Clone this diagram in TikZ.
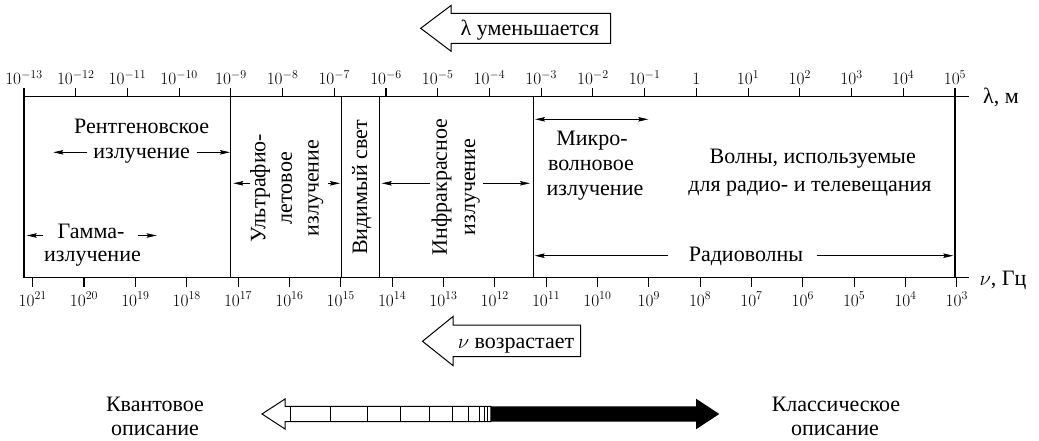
\documentclass[tikz,border=0pt]{standalone}
\usepackage[no-math]{fontspec}
\setmainfont{Liberation Serif}
\usetikzlibrary{arrows.meta}
\begin{document}
\begin{tikzpicture}[x=1pt,y=-1pt,
  lbl/.style={font=\fontsize{22}{25}\selectfont, inner sep=0pt, align=center},
  blbl/.style={lbl, anchor=base},
  tick/.style={font=\fontsize{18}{20}\selectfont, inner sep=0pt, anchor=base},
  axis/.style={line width=1.1pt},
  tip/.tip={Stealth[length=10pt,width=4.5pt,inset=1.5pt]},
  rng/.style={line width=0.8pt, -tip},
  rngb/.style={line width=0.8pt, tip-tip},
  bigarrow/.style={line width=1pt, line join=miter}]
\useasboundingbox (0,0) rectangle (1039,441);

% axes
\coordinate (tl) at (24,96.7);  \coordinate (tr) at (969,96.7);
\coordinate (bl) at (24,277.7); \coordinate (br) at (969,277.7);
\draw[axis] (tl) -- (tr);
\draw[axis] (bl) -- (br);
\foreach \x [count=\k] in {24,230.7,341.7,379.7,533.3,955}{
  \coordinate (d\k t) at (\x,96.7); \coordinate (d\k b) at (\x,277.7);
  \draw[axis] (d\k t) -- (d\k b);
}

% top ticks (wavelength)
\foreach \lab [count=\i from 0] in {10^{-13},10^{-12},10^{-11},10^{-10},10^{-9},10^{-8},10^{-7},10^{-6},10^{-5},10^{-4},10^{-3},10^{-2},10^{-1},1,10^{1},10^{2},10^{3},10^{4},10^{5}}{
  \pgfmathsetmacro\xx{24+\i*51.72}
  \coordinate (ta\i) at (\xx,96.7); \coordinate (tb\i) at (\xx,87.7);
  \draw[axis] (ta\i) -- (tb\i);
  \node[tick] (tl\i) at (\xx,85) {$\lab$};
}
% bottom ticks (frequency)
\foreach \e [count=\i from 0] in {21,20,...,3}{
  \pgfmathsetmacro\xx{32.7+\i*51.34}
  \coordinate (ba\i) at (\xx,277.7); \coordinate (bb\i) at (\xx,286.5);
  \draw[axis] (ba\i) -- (bb\i);
  \node[tick] (bl\i) at (\xx,306) {$10^{\e}$};
}
\node[blbl] (lam) at (1001,104) {λ, м};
\node[blbl] (nu) at (1003,285) {$\nu$, Гц};

% X-rays
\node[blbl] (r1) at (141.7,133.5) {Рентгеновское};
\node[blbl] (r2) at (141.7,158) {излучение};
\coordinate (r2l) at (87.3,152.3); \coordinate (r2lt) at (53.3,152.3);
\coordinate (r2r) at (196.7,152.3); \coordinate (r2rt) at (230,152.3);
\draw[rng] (r2l) -- (r2lt);
\draw[rng] (r2r) -- (r2rt);

% Gamma
\node[blbl] (g1) at (91,238) {Гамма-};
\node[blbl] (g2) at (92.5,261) {излучение};
\coordinate (gl) at (43.3,235.5); \coordinate (glt) at (26.7,235.5);
\coordinate (gr) at (138.3,235.5); \coordinate (grt) at (156.7,235.5);
\draw[rng] (gl) -- (glt);
\draw[rng] (gr) -- (grt);

% UV
\node[lbl, rotate=90, font=\fontsize{22}{26.7}\selectfont] (uv) at (286.7,188) {Ультрафио-\\летовое\\излучение};
\coordinate (uvl) at (250,183.3); \coordinate (uvlt) at (233.3,183.3);
\coordinate (uvr) at (328.3,183.3); \coordinate (uvrt) at (340,183.3);
\draw[rng] (uvl) -- (uvlt);
\draw[rng] (uvr) -- (uvrt);

% visible
\node[lbl, rotate=90] (vis) at (361.7,187.5) {Видимый свет};

% IR
\node[lbl, rotate=90, font=\fontsize{22}{28.3}\selectfont] (ir) at (455.8,187) {Инфракрасное\\излучение};
\coordinate (irl) at (430,183.3); \coordinate (irlt) at (381.7,183.3);
\coordinate (irr) at (483.3,183.3); \coordinate (irrt) at (530,183.3);
\draw[rng] (irl) -- (irlt);
\draw[rng] (irr) -- (irrt);

% microwave
\coordinate (mwl) at (535,119.3); \coordinate (mwr) at (648.3,119.3);
\draw[rngb] (mwl) -- (mwr);
\node[blbl] (m1) at (592,146) {Микро-};
\node[blbl] (m2) at (591,170.5) {волновое};
\node[blbl] (m3) at (595,195) {излучение};

% radio
\node[blbl] (w1) at (812.7,163.3) {Волны, используемые};
\node[blbl] (w2) at (810,191.7) {для радио- и телевещания};
\node[blbl] (rad) at (746,261.7) {Радиоволны};
\coordinate (rdl) at (667.6,255.7); \coordinate (rdlt) at (534.6,255.7);
\coordinate (rdr) at (816.7,255.7); \coordinate (rdrt) at (953.3,255.7);
\draw[rng] (rdl) -- (rdlt);
\draw[rng] (rdr) -- (rdrt);

% big arrows
\draw[bigarrow] (420.7,28.3) -- (451,5.5) -- (451,13.3) -- (610.7,13.3) -- (610.7,43.3) -- (451,43.3) -- (451,51.2) -- cycle;
\node[blbl] (lamdec) at (530,35.5) {λ уменьшается};
\draw[bigarrow] (422.5,341.3) -- (453,316.5) -- (453,325) -- (580.5,325) -- (580.5,356.7) -- (453,356.7) -- (453,365.6) -- cycle;
\node[blbl] (nuinc) at (516,348.5) {$\nu$ возрастает};

% quantum / classical arrow
\draw[bigarrow] (262,414) -- (285,399) -- (285,406.3) -- (490.8,406.3) -- (490.8,421.7) -- (285,421.7) -- (285,429) -- cycle;
\fill (490.8,406.3) -- (696,406.3) -- (696,398.7) -- (719.3,414) -- (696,429.3) -- (696,421.7) -- (490.8,421.7) -- cycle;
\foreach \x in {290.7,330,367.5,400.5,429.4,452.4,468.4,479.7,484.3,487.8}
  \draw[line width=0.9pt] (\x,406.3) -- (\x,421.7);
\node[blbl] (q1) at (155,411.7) {Квантовое};
\node[blbl] (q2) at (155,435) {описание};
\node[blbl] (c1) at (836,411.7) {Классическое};
\node[blbl] (c2) at (835,435) {описание};
\end{tikzpicture}
\end{document}
